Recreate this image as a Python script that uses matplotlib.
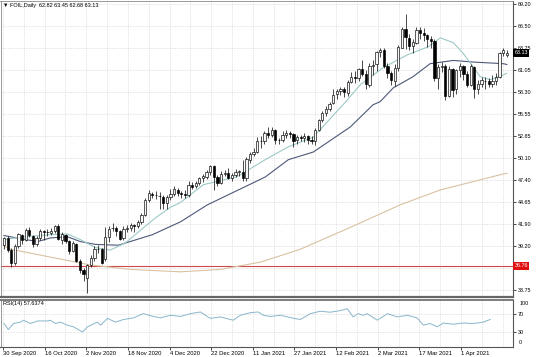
import matplotlib
matplotlib.use("Agg")
import matplotlib.pyplot as plt
import matplotlib.transforms as mtransforms
import numpy as np

plt.rcParams['font.family'] = ['Liberation Sans', 'DejaVu Sans']

# daily bars, 30 Sep 2020 .. 16 Apr 2021 (one entry per trading day)
opens = [39.30, 40.20, 38.70, 37.10, 39.25, 40.60, 39.95, 41.20, 40.50, 39.45,
         40.20, 41.00, 40.90, 40.85, 41.05, 41.70, 40.00, 40.60, 39.80, 38.60,
         39.50, 37.40, 36.20, 35.20, 36.80, 37.70, 38.80, 38.80, 37.60, 40.30,
         41.40, 41.45, 41.10, 40.20, 41.30, 41.40, 41.80, 41.70, 42.20, 43.10,
         44.90, 45.70, 45.50, 45.40, 45.30, 44.50, 45.30, 45.60, 46.20, 45.80,
         45.60, 45.50, 46.80, 46.60, 47.00, 47.60, 47.80, 48.40, 49.10, 47.70,
         47.00, 48.10, 48.20, 47.60, 48.00, 48.40, 48.40, 47.60, 49.90, 50.60,
         50.80, 52.20, 52.20, 53.20, 52.90, 53.60, 52.30, 52.40, 53.00, 53.20,
         53.10, 52.30, 52.70, 52.60, 52.80, 52.30, 52.20, 53.60, 54.80, 55.70,
         56.20, 56.90, 58.00, 58.40, 58.70, 58.20, 59.50, 60.10, 60.00, 61.10,
         60.50, 59.20, 61.50, 61.70, 63.20, 63.50, 61.50, 60.60, 59.70, 61.30,
         63.80, 66.10, 65.00, 64.00, 64.40, 66.00, 65.60, 65.40, 64.80, 64.60,
         60.00, 61.40, 61.50, 57.80, 61.20, 58.60, 61.00, 61.50, 60.50, 59.20,
         61.40, 58.60, 59.30, 59.70, 59.60, 59.30, 59.70, 60.20, 63.10, 62.82]
highs = [40.35, 40.45, 38.90, 39.50, 40.80, 40.70, 41.40, 41.60, 40.55, 40.40,
         41.30, 41.20, 41.25, 41.40, 41.80, 41.95, 40.90, 40.70, 39.90, 39.80,
         39.60, 37.60, 36.50, 37.00, 38.10, 39.20, 39.30, 38.90, 41.60, 41.70,
         42.10, 41.70, 41.20, 41.70, 41.80, 42.00, 41.95, 42.40, 43.30, 45.10,
         46.20, 45.90, 46.00, 45.90, 45.50, 45.50, 46.30, 46.60, 46.40, 46.00,
         46.20, 47.20, 47.10, 47.20, 47.80, 48.10, 48.60, 49.30, 49.20, 48.00,
         48.50, 48.60, 48.90, 48.30, 48.70, 48.60, 49.80, 50.20, 50.90, 51.30,
         52.70, 52.80, 53.50, 53.90, 54.00, 53.70, 52.60, 53.40, 53.60, 53.50,
         53.20, 53.00, 53.00, 53.20, 53.00, 52.80, 53.80, 55.00, 55.90, 56.50,
         57.00, 58.60, 58.60, 58.90, 58.90, 59.80, 60.80, 60.90, 61.30, 62.30,
         61.00, 61.90, 62.30, 63.40, 63.80, 63.70, 61.90, 60.90, 61.70, 64.10,
         66.40, 67.98, 65.50, 64.90, 66.40, 66.40, 66.20, 65.50, 65.20, 64.80,
         61.70, 62.00, 61.70, 61.50, 61.30, 61.20, 61.90, 61.60, 60.90, 61.70,
         61.50, 59.80, 60.10, 60.10, 60.00, 60.40, 60.60, 63.30, 63.80, 63.45]
lows = [38.80, 38.40, 36.63, 36.90, 38.90, 39.40, 39.80, 40.30, 39.10, 39.20,
        39.90, 39.90, 40.50, 40.60, 40.80, 39.90, 39.40, 39.60, 38.20, 38.50,
        37.20, 35.90, 34.90, 33.40, 36.60, 37.30, 38.30, 37.00, 37.40, 39.70,
        41.00, 40.50, 39.90, 39.90, 40.90, 41.10, 40.90, 41.40, 41.90, 42.90,
        44.60, 45.10, 45.00, 43.80, 43.80, 43.80, 44.90, 45.40, 45.40, 45.10,
        45.20, 45.30, 46.30, 46.40, 46.70, 47.10, 47.50, 48.00, 46.20, 46.60,
        46.90, 47.90, 47.50, 47.30, 47.80, 47.90, 47.20, 47.30, 49.50, 50.40,
        50.70, 51.30, 51.80, 52.60, 52.70, 51.90, 51.80, 52.10, 52.60, 52.60,
        51.50, 51.80, 52.20, 52.10, 51.90, 51.80, 51.70, 53.40, 54.60, 55.30,
        55.90, 56.80, 57.40, 57.90, 57.70, 57.80, 59.40, 59.40, 59.60, 60.30,
        58.60, 58.90, 60.40, 60.90, 62.60, 61.30, 60.00, 59.20, 59.00, 60.90,
        63.70, 63.60, 63.50, 63.10, 64.20, 64.80, 64.60, 63.90, 63.80, 59.70,
        58.70, 60.80, 57.30, 57.70, 57.70, 58.10, 60.20, 59.80, 58.90, 59.00,
        57.60, 58.10, 58.90, 58.70, 58.90, 58.90, 59.20, 60.00, 62.80, 62.68]
closes = [40.22, 38.72, 37.05, 39.22, 40.67, 39.95, 41.19, 40.60, 39.43, 40.20,
          41.04, 40.96, 40.88, 41.06, 41.70, 40.03, 40.64, 39.85, 38.56, 39.57,
          37.39, 36.17, 35.79, 36.81, 37.66, 38.79, 38.79, 37.14, 40.29, 41.36,
          41.45, 41.12, 40.13, 41.34, 41.43, 41.82, 41.74, 42.15, 43.06, 44.91,
          45.71, 45.50, 45.53, 45.34, 44.55, 45.28, 45.64, 46.26, 45.76, 45.60,
          45.52, 46.78, 46.57, 46.99, 47.62, 47.82, 48.36, 49.10, 47.74, 47.02,
          48.12, 48.23, 47.62, 48.00, 48.40, 48.52, 47.62, 49.93, 50.63, 50.83,
          52.24, 52.25, 53.21, 52.91, 53.57, 52.36, 52.40, 52.98, 53.24, 53.13,
          52.27, 52.77, 52.61, 52.85, 52.34, 52.20, 53.55, 54.76, 55.69, 56.23,
          56.85, 57.97, 58.36, 58.68, 58.24, 59.47, 60.10, 60.05, 61.14, 60.52,
          59.24, 61.49, 61.67, 63.22, 63.53, 61.50, 60.64, 59.75, 61.28, 63.83,
          66.09, 65.05, 64.01, 64.44, 66.02, 65.61, 65.39, 64.80, 64.60, 60.00,
          61.42, 61.55, 57.76, 61.18, 58.56, 60.97, 61.56, 60.55, 59.16, 61.45,
          58.65, 59.33, 59.77, 59.60, 59.32, 59.70, 60.18, 63.15, 63.46, 63.13]

# moving averages (bar index, price)
fast_ma_bar = [0, 4.6, 12.8, 17.5, 21.1, 25.3, 29.4, 33.6, 38.5, 41.9, 46, 48.8, 55.1,
               64.5, 72.2, 78.6, 85.5, 94.3, 98.5, 104.8, 111.5, 117.3, 120.6, 124.2,
               126.9, 129.7, 131.6, 134.4, 138, 139]
fast_ma_val = [40.0, 40.3, 40.6, 40.7, 40.0, 39.0, 38.7, 39.6, 41.45, 42.7, 44.0, 44.6, 46.8,
               47.8, 49.9, 51.5, 52.7, 57.0, 59.2, 61.3, 62.9, 63.9, 65.0, 64.4,
               63.1, 61.4, 60.2, 59.8, 60.4, 60.6]
slow_ma_bar = [0, 4.6, 9.3, 12.8, 17.5, 21.1, 25.3, 31.6, 36.3, 41, 48.8, 56.2, 72.2,
               78.6, 85.5, 95.7, 102, 104, 107.6, 113.1, 117.8, 124.2, 129.7, 138, 139]
slow_ma_val = [40.5, 40.1, 39.75, 40.2, 40.35, 39.75, 39.4, 39.3, 39.95, 40.6, 42.2, 44.3, 47.75,
               49.9, 50.85, 53.95, 56.7, 57.1, 58.8, 60.2, 61.8, 62.2, 62.0, 61.8, 61.7]
ma200_bar = [0, 1.8, 23.9, 34.9, 48.8, 59.8, 70.9, 81.9, 95.7, 109.5, 120.6, 138, 139]
ma200_val = [39.2, 38.8, 36.85, 36.3, 36.0, 36.3, 37.2, 38.8, 41.5, 44.3, 46.15, 48.13, 48.2]

# RSI(14)
rsi_bar = [0, 1.2, 2.6, 4.6, 5.4, 7.3, 9.3, 12, 12.8, 14.2, 15.6, 17.5, 19.2, 21.7, 23.1,
           25.8, 26.7, 28.6, 30.8, 33, 35.8, 38.5, 41.3, 43.2, 46, 48.8, 51.5, 54.3, 57,
           59.8, 63.4, 65.3, 68.1, 70.3, 71.7, 73.6, 76.4, 79.1, 81.9, 84.7, 87.4, 90.2,
           93, 94.9, 96.5, 97.9, 99.3, 100.4, 103.2, 106, 108.7, 111.5, 114.2, 115.9,
           117.8, 119.8, 121.4, 124.2, 126.9, 129.7, 132.5, 134.4]
rsi_val = [49, 36, 49, 52, 56, 49, 54.5, 54.5, 56, 49, 52, 45.5, 42, 31, 42,
           52, 45.5, 60, 52, 57.5, 61, 70, 64, 61, 66.5, 64, 70, 73.5, 60,
           63, 56, 66.5, 72, 73.5, 66.5, 64, 66.5, 61.7, 57.5, 70, 75, 73,
           76.5, 80.6, 63, 70, 66.5, 70, 56, 70, 63, 66.5, 61, 45.5,
           49, 42, 50, 47.5, 50, 49, 52, 57.64]

price_ticks = [69.20, 66.50, 63.75, 61.05, 58.30, 55.55, 52.85, 50.10, 47.40, 44.65,
               41.90, 39.20, 36.45, 33.75]
date_labels = ['30 Sep 2020', '16 Oct 2020', '2 Nov 2020', '18 Nov 2020', '4 Dec 2020',
               '22 Dec 2020', '11 Jan 2021', '27 Jan 2021', '12 Feb 2021', '2 Mar 2021',
               '17 Mar 2021', '1 Apr 2021']
level_price = 36.76
title = 'FOIL,Daily  62.82 63.45 62.68 63.13'
rsi_title = 'RSI(14) 57.6374'

W, H = 536, 357
fig = plt.figure(figsize=(W / 100, H / 100), dpi=100)
fig.patch.set_facecolor('white')
ax = fig.add_axes([0.5 / W, 1 - 297 / H, 512.5 / W, 296.5 / H])
axr = fig.add_axes([0.5 / W, 1 - 346.6 / H, 512.5 / W, 47.1 / H])

n = len(closes)
x = np.arange(n)
o = np.array(opens); c = np.array(closes); hi = np.array(highs); lo = np.array(lows)
up = c >= o

grid_kw = dict(color='#c4c4c4', lw=0.45, ls=(0, (1, 1.6)))
step = 11.51
label_pos = -0.28 + step * np.arange(len(date_labels))
grid_x = -0.28 + step / 2 * np.arange(2 * len(date_labels) + 1)

# main panel
for gx in grid_x:
    ax.axvline(gx, zorder=0, **grid_kw)
    axr.axvline(gx, zorder=0, **grid_kw)
for p in price_ticks:
    ax.axhline(p, zorder=0, **grid_kw)

ax.axhline(level_price, color='#cc4a4a', lw=0.8, zorder=1)
ax.plot(ma200_bar, ma200_val, color='#d8c2a2', lw=0.8, zorder=2)
ax.plot(slow_ma_bar, slow_ma_val, color='#4d5878', lw=0.8, zorder=2)
ax.plot(fast_ma_bar, fast_ma_val, color='#9cc9c6', lw=0.8, zorder=2)

ax.vlines(x, lo, hi, color='black', lw=0.5, zorder=3)
body = np.maximum(np.abs(c - o), 0.04)
ax.bar(x[up], body[up], bottom=np.minimum(o, c)[up], width=0.62,
       color='#f7f7f7', edgecolor='black', lw=0.45, zorder=4)
ax.bar(x[~up], body[~up], bottom=np.minimum(o, c)[~up], width=0.62,
       color='black', edgecolor='black', lw=0.45, zorder=4)

ax.set_xlim(-0.97, 140.7)
ax.set_ylim(32.88, 69.63)
ax.set_xticks([])
ax.yaxis.tick_right()
ax.set_yticks(price_ticks)
ax.set_yticklabels(['%.2f' % p if abs(p - 36.45) > 0.01 else '' for p in price_ticks],
                   fontsize=3.9)
ax.tick_params(axis='y', length=2, width=0.5, pad=1.2, colors='black')

trans = mtransforms.blended_transform_factory(ax.transAxes, ax.transData)
ax.text(1.003, level_price, '%.2f' % level_price, transform=trans, fontsize=3.9,
        color='white', ha='left', va='center', zorder=10, clip_on=False,
        bbox=dict(boxstyle='square,pad=0.25', fc='#e01010', ec='none'))
ax.text(1.003, closes[-1], '%.2f' % closes[-1], transform=trans, fontsize=3.9,
        color='white', ha='left', va='center', zorder=10, clip_on=False,
        bbox=dict(boxstyle='square,pad=0.25', fc='black', ec='none'))
ax.text(0.005, 0.992, '\u25bc ' + title, transform=ax.transAxes, fontsize=4.0,
        ha='left', va='top', color='black')

for s in ['left', 'top']:
    ax.spines[s].set_color('#8a8a8a'); ax.spines[s].set_linewidth(0.6)
ax.spines['right'].set_color('#555555'); ax.spines['right'].set_linewidth(0.8)
ax.spines['bottom'].set_color('#666666'); ax.spines['bottom'].set_linewidth(1.6)

# RSI panel
for lv in [70, 30]:
    axr.axhline(lv, zorder=0, **grid_kw)
axr.plot(rsi_bar, rsi_val, color='#89b6cb', lw=0.7)
axr.set_xlim(-0.97, 140.7)
axr.set_ylim(0, 100)
axr.yaxis.tick_right()
axr.set_yticks([70, 30])
axr.set_yticklabels(['70', '30'], fontsize=3.9)
axr.tick_params(axis='y', length=2, width=0.5, pad=1.2)
rtrans = mtransforms.blended_transform_factory(axr.transAxes, axr.transData)
axr.text(1.012, 92, '100', transform=rtrans, fontsize=3.9, ha='left', va='center')
axr.text(1.012, 9, '0', transform=rtrans, fontsize=3.9, ha='left', va='center')
axr.set_xticks(label_pos)
axr.set_xticklabels(date_labels, fontsize=4.2, ha='left')
axr.tick_params(axis='x', length=2, width=0.5, pad=1.0)
axr.text(0.004, 0.96, rsi_title, transform=axr.transAxes, fontsize=4.0,
         ha='left', va='top')
axr.spines['top'].set_color('#666666'); axr.spines['top'].set_linewidth(1.2)
axr.spines['left'].set_color('#8a8a8a'); axr.spines['left'].set_linewidth(0.6)
axr.spines['right'].set_color('#555555'); axr.spines['right'].set_linewidth(0.8)
axr.spines['bottom'].set_color('#555555'); axr.spines['bottom'].set_linewidth(0.8)

fig.savefig('out.png', dpi=100)
